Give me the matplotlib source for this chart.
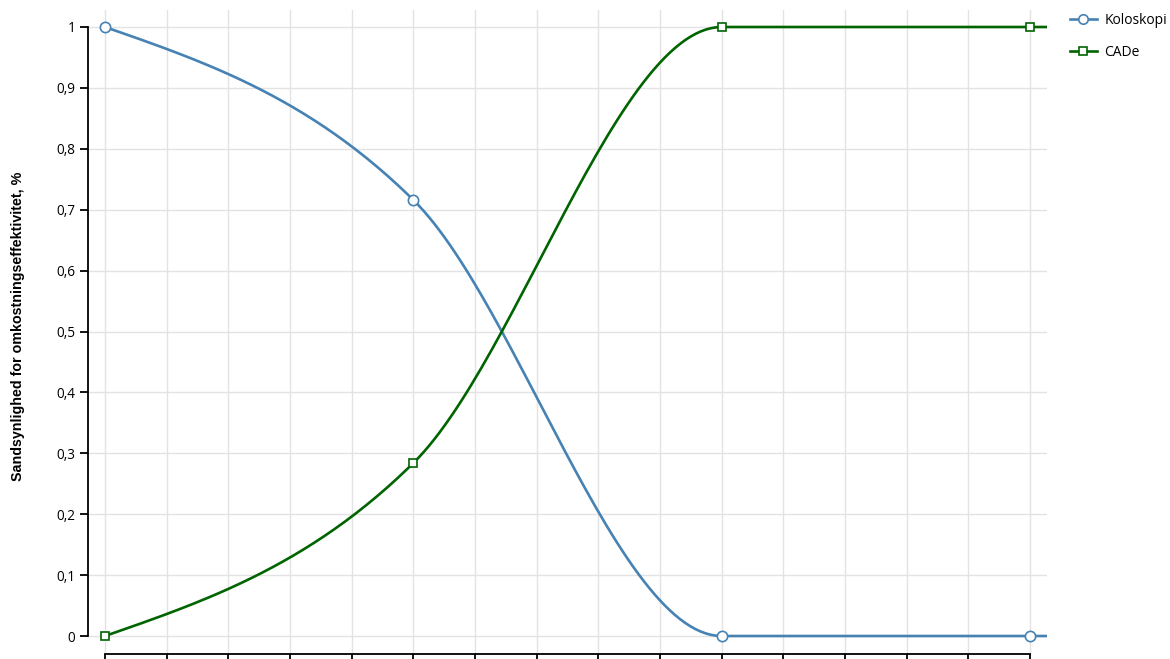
import numpy as np
import matplotlib.pyplot as plt
from matplotlib.lines import Line2D

# Data
x_points = [0, 5, 10, 15]
koloskopi = [1.0, 0.716, 0.0, 0.0]
cade = [0.0, 0.284, 1.0, 1.0]
y_ticks = [0, 0.1, 0.2, 0.3, 0.4, 0.5, 0.6, 0.7, 0.8, 0.9, 1.0]
x_ticks = list(range(0, 16))

BLUE = "#4682b4"
GREEN = "#006400"


def monotone_curve(xs, ys, n=60):
    # monotone cubic (same rule as d3 curveMonotoneX)
    xs = np.asarray(xs, float)
    ys = np.asarray(ys, float)
    h = np.diff(xs)
    s = np.diff(ys) / h
    t = np.zeros(len(xs))
    for i in range(1, len(xs) - 1):
        p = (s[i - 1] * h[i] + s[i] * h[i - 1]) / (h[i - 1] + h[i])
        t[i] = (np.sign(s[i - 1]) + np.sign(s[i])) * min(abs(s[i - 1]), abs(s[i]), 0.5 * abs(p))
    t[0] = (3 * s[0] - t[1]) / 2
    t[-1] = (3 * s[-1] - t[-2]) / 2
    out_x, out_y = [], []
    for i in range(len(xs) - 1):
        u = np.linspace(0, 1, n)
        dx = h[i]
        p0, p3 = ys[i], ys[i + 1]
        p1 = p0 + dx * t[i] / 3
        p2 = p3 - dx * t[i + 1] / 3
        bx = xs[i] + dx * u
        by = (1 - u) ** 3 * p0 + 3 * (1 - u) ** 2 * u * p1 + 3 * (1 - u) * u ** 2 * p2 + u ** 3 * p3
        out_x.extend(bx)
        out_y.extend(by)
    return np.array(out_x), np.array(out_y)


W, H = 1170, 659
fig = plt.figure(figsize=(W / 100, H / 100), dpi=100)
left, right, top, bottom = 88, 1047, 10, 654
ax = fig.add_axes([left / W, 1 - bottom / H, (right - left) / W, (bottom - top) / H])

px_x = (1030 - 105) / 15
px_y = 636 - 27
xlim = ((left - 105) / px_x, (right - 105) / px_x)
ylim = (-(bottom - 636) / px_y, 1 + (27 - top) / px_y)
ax.set_xlim(xlim)
ax.set_ylim(ylim)

for ys, color, marker, ms in [(koloskopi, BLUE, "o", 7.4), (cade, GREEN, "s", 5.8)]:
    cx, cy = monotone_curve(x_points, ys)
    cx = np.append(cx, xlim[1] + 1)
    cy = np.append(cy, ys[-1])
    ax.plot(cx, cy, color=color, lw=1.9, zorder=3)
    ax.plot(x_points, ys, linestyle="none", marker=marker, ms=ms, mfc="white",
            mec=color, mew=1.2, zorder=4)

ax.set_yticks(y_ticks)
ax.set_yticklabels([("%g" % v).replace(".", ",") for v in y_ticks],
                   fontfamily="Open Sans", fontsize=9.8)
ax.set_xticks(x_ticks)
ax.set_xticklabels([])
ax.grid(True, color="#e3e3e3", lw=1)
ax.set_axisbelow(True)

for sp in ["top", "right"]:
    ax.spines[sp].set_visible(False)
ax.spines["left"].set_bounds(0, 1)
ax.spines["bottom"].set_bounds(0, 15)
ax.spines["left"].set_linewidth(1.3)
ax.spines["bottom"].set_linewidth(1.3)
ax.tick_params(axis="y", length=6, width=1.3, pad=3)
ax.tick_params(axis="x", length=6, width=1.3)

fig.text(18 / W, 1 - 326 / H, "Sandsynlighed for omkostningseffektivitet, %",
         rotation=90, ha="center", va="center", fontfamily="Liberation Sans",
         fontweight="bold", fontsize=10.3)

handles = [
    Line2D([], [], color=BLUE, lw=1.9, marker="o", ms=6.8, mfc="white", mec=BLUE, mew=1.2),
    Line2D([], [], color=GREEN, lw=1.9, marker="s", ms=5.4, mfc="white", mec=GREEN, mew=1.2),
]
fig.legend(handles, ["Koloskopi", "CADe"], loc="upper left",
           bbox_to_anchor=(1057 / W, 1 - 0 / H), frameon=False,
           handlelength=2.0, labelspacing=1.25, handletextpad=0.5,
           prop={"family": "Open Sans", "size": 10})

fig.savefig("out.png", dpi=100)
